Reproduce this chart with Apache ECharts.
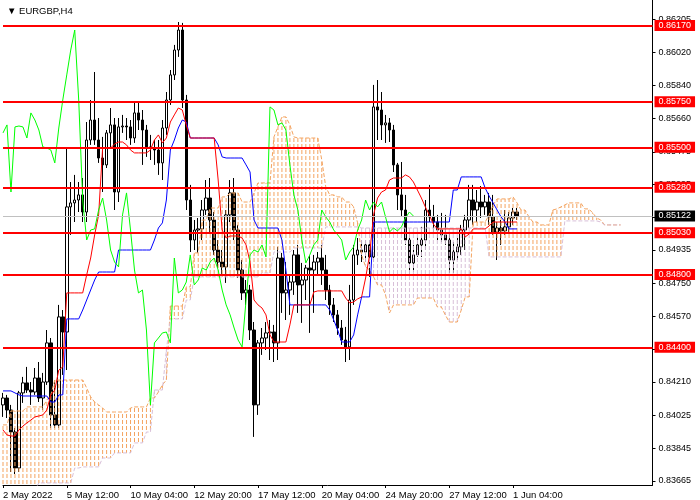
<!DOCTYPE html>
<html><head><meta charset="utf-8">
<script src="https://cdn.jsdelivr.net/npm/echarts@6/dist/echarts.min.js"></script>
<style>html,body{margin:0;padding:0;background:#fff}#c{width:700px;height:500px}</style>
</head><body><div id="c"></div>
<script>
const chartTitle = '\u25BC EURGBP,H4';
const xTickLabels = ['2 May 2022','5 May 12:00','10 May 04:00','12 May 20:00','17 May 12:00','20 May 04:00','24 May 20:00','27 May 12:00','1 Jun 04:00'];
const xTickStep = 16;
const barSlots = 164;
const yTickValues = [0.83665,0.83845,0.84025,0.84210,0.84390,0.84570,0.84750,0.84935,0.85115,0.85295,0.85475,0.85660,0.85840,0.86020,0.86205];
const yMin = 0.836425, yMax = 0.8631;
const levels = [0.86170,0.85750,0.85500,0.85280,0.85030,0.84800,0.84400];
const currentPrice = 0.85122;
const chikouShift = 26;

const opens = [0.84083,0.84121,0.84055,0.83934,0.83736,0.84149,0.84204,0.84165,0.84154,0.84231,
0.84121,0.84209,0.84424,0.84028,0.83973,0.84567,0.84484,0.85172,0.85194,0.85210,
0.85238,0.85144,0.85540,0.85650,0.85540,0.85441,0.85403,0.85579,0.85623,0.85254,
0.85612,0.85617,0.85612,0.85551,0.85689,0.85650,0.85595,0.85502,0.85496,0.85485,
0.85414,0.85606,0.85760,0.85898,0.86035,0.86145,0.85760,0.85210,0.84990,0.85045,
0.85051,0.85155,0.85221,0.85100,0.84935,0.84869,0.84842,0.85128,0.85249,0.85045,
0.84825,0.84699,0.84715,0.84495,0.84083,0.84424,0.84451,0.84479,0.84484,0.84424,
0.84891,0.84699,0.84715,0.84759,0.84908,0.84743,0.84770,0.84836,0.84825,0.84869,
0.84891,0.84825,0.84715,0.84633,0.84578,0.84506,0.84440,0.84402,0.84660,0.84908,
0.84935,0.84924,0.84963,0.84897,0.85722,0.85705,0.85623,0.85634,0.85595,0.85403,
0.85238,0.85155,0.84990,0.84864,0.84908,0.84963,0.84990,0.85155,0.85117,0.85089,
0.85045,0.85018,0.84990,0.84880,0.84924,0.84952,0.85045,0.85100,0.85210,0.85155,
0.85199,0.85172,0.85199,0.85117,0.85034,0.85056,0.85040,0.85062,0.85111,0.85144];

const highs = [0.84149,0.84138,0.84083,0.83956,0.84160,0.84237,0.84292,0.84209,0.84286,0.84319,
0.84259,0.84495,0.84451,0.84220,0.84633,0.84605,0.85496,0.85309,0.85348,0.85309,
0.85331,0.85639,0.85760,0.85914,0.85661,0.85557,0.85595,0.85716,0.85661,0.85661,
0.85678,0.85661,0.85650,0.85749,0.85744,0.85705,0.85623,0.85568,0.85540,0.85540,
0.85650,0.85804,0.85925,0.86063,0.86189,0.86184,0.85788,0.85293,0.85100,0.85111,
0.85210,0.85320,0.85331,0.85144,0.84990,0.84935,0.85155,0.85320,0.85331,0.85073,
0.84880,0.84770,0.84743,0.84539,0.84440,0.84506,0.84539,0.84550,0.84523,0.84952,
0.84919,0.84869,0.84798,0.84935,0.84963,0.84864,0.84853,0.84908,0.84908,0.84924,
0.84963,0.84908,0.84743,0.84671,0.84605,0.84550,0.84512,0.84743,0.84963,0.85001,
0.84990,0.84990,0.84990,0.85843,0.85870,0.85804,0.85678,0.85661,0.85623,0.85414,
0.85419,0.85238,0.85034,0.84963,0.85007,0.85062,0.85210,0.85293,0.85183,0.85128,
0.85139,0.85128,0.85034,0.84979,0.85001,0.85073,0.85128,0.85293,0.85293,0.85265,
0.85287,0.85238,0.85249,0.85238,0.85089,0.85100,0.85155,0.85144,0.85166,0.85166];

const lows = [0.84017,0.84011,0.83714,0.83703,0.83714,0.84094,0.84149,0.84083,0.84138,0.84099,
0.84055,0.84193,0.83956,0.83956,0.83956,0.84248,0.84275,0.85018,0.85089,0.85144,
0.85089,0.85089,0.85513,0.85513,0.85414,0.85254,0.85386,0.85496,0.85155,0.85199,
0.85579,0.85540,0.85513,0.85524,0.85595,0.85403,0.85447,0.85430,0.85403,0.85348,
0.85320,0.85568,0.85733,0.85870,0.85997,0.85716,0.85155,0.84924,0.84935,0.84919,
0.84990,0.85128,0.85034,0.84908,0.84836,0.84798,0.84754,0.85089,0.84990,0.84781,
0.84660,0.84633,0.84440,0.83907,0.84028,0.84358,0.84385,0.84330,0.84319,0.84330,
0.84589,0.84550,0.84578,0.84688,0.84589,0.84534,0.84660,0.84479,0.84589,0.84798,
0.84743,0.84660,0.84578,0.84539,0.84468,0.84413,0.84319,0.84330,0.84633,0.84853,
0.84869,0.84869,0.84787,0.84869,0.85540,0.85540,0.85524,0.85529,0.85364,0.85155,
0.85117,0.84963,0.84798,0.84814,0.84897,0.84897,0.84935,0.85089,0.85029,0.84990,
0.84979,0.84963,0.84809,0.84809,0.84880,0.84908,0.84935,0.85056,0.85073,0.85089,
0.85111,0.85128,0.85073,0.85018,0.84880,0.84963,0.85018,0.85029,0.85073,0.85100];

const closes = [0.84121,0.84055,0.83934,0.83736,0.84149,0.84204,0.84165,0.84154,0.84231,0.84121,
0.84209,0.84424,0.84028,0.83973,0.84567,0.84484,0.85172,0.85194,0.85210,0.85238,
0.85144,0.85540,0.85650,0.85540,0.85441,0.85403,0.85579,0.85623,0.85254,0.85612,
0.85617,0.85612,0.85551,0.85689,0.85650,0.85595,0.85502,0.85496,0.85485,0.85414,
0.85606,0.85760,0.85898,0.86035,0.86145,0.85760,0.85210,0.84990,0.85045,0.85051,
0.85155,0.85221,0.85100,0.84935,0.84869,0.84842,0.85128,0.85249,0.85045,0.84825,
0.84699,0.84715,0.84495,0.84083,0.84424,0.84451,0.84479,0.84484,0.84424,0.84891,
0.84699,0.84715,0.84759,0.84908,0.84743,0.84770,0.84836,0.84825,0.84869,0.84891,
0.84825,0.84715,0.84633,0.84578,0.84506,0.84440,0.84402,0.84660,0.84908,0.84935,
0.84924,0.84963,0.84897,0.85722,0.85705,0.85623,0.85634,0.85595,0.85403,0.85238,
0.85155,0.84990,0.84864,0.84908,0.84963,0.84990,0.85155,0.85117,0.85089,0.85045,
0.85018,0.84990,0.84880,0.84924,0.84952,0.85045,0.85100,0.85210,0.85155,0.85199,
0.85172,0.85199,0.85117,0.85034,0.85056,0.85040,0.85062,0.85111,0.85144,0.85122];

const tenkan = [0.83945,0.83918,0.83912,0.83912,0.83945,0.83967,0.83984,0.84000,0.84017,0.84022,
0.84028,0.84055,0.84138,0.84165,0.84275,0.84292,0.84699,0.84699,0.84699,0.84699,
0.84699,0.84798,0.84891,0.85018,0.85128,0.85496,0.85496,0.85496,0.85518,0.85529,
0.85529,0.85513,0.85485,0.85469,0.85469,0.85469,0.85469,0.85485,0.85540,0.85568,
0.85524,0.85551,0.85639,0.85678,0.85716,0.85705,0.85623,0.85551,0.85551,0.85551,
0.85551,0.85551,0.85551,0.85551,0.85320,0.85045,0.85001,0.85012,0.85012,0.85012,
0.85001,0.84963,0.84869,0.84660,0.84633,0.84616,0.84578,0.84468,0.84429,0.84429,
0.84429,0.84429,0.84523,0.84633,0.84633,0.84633,0.84633,0.84633,0.84704,0.84710,
0.84710,0.84710,0.84710,0.84710,0.84710,0.84710,0.84671,0.84644,0.84649,0.84666,
0.84677,0.84781,0.84908,0.85128,0.85221,0.85254,0.85265,0.85320,0.85331,0.85331,
0.85331,0.85348,0.85337,0.85309,0.85265,0.85221,0.85172,0.85128,0.85078,0.85051,
0.85051,0.85051,0.85051,0.85051,0.85051,0.85051,0.85007,0.85023,0.85051,0.85051,
0.85051,0.85051,0.85067,0.85089,0.85089,0.85089,0.85089,0.85089,0.85089,0.85089];

const kijun = [0.84160,0.84160,0.84160,0.84149,0.84138,0.84132,0.84132,0.84132,0.84132,0.84132,
0.84132,0.84132,0.84099,0.84099,0.84138,0.84138,0.84556,0.84556,0.84556,0.84556,
0.84605,0.84660,0.84715,0.84770,0.84814,0.84814,0.84814,0.84814,0.84814,0.84935,
0.84935,0.84935,0.84935,0.84935,0.84935,0.84935,0.84935,0.84935,0.84990,0.85056,
0.85084,0.85210,0.85485,0.85540,0.85606,0.85650,0.85639,0.85551,0.85551,0.85551,
0.85551,0.85551,0.85551,0.85551,0.85513,0.85447,0.85441,0.85441,0.85441,0.85441,
0.85441,0.85403,0.85364,0.85100,0.85056,0.85056,0.85056,0.85056,0.85056,0.85056,
0.84990,0.84825,0.84633,0.84633,0.84633,0.84633,0.84633,0.84633,0.84633,0.84633,
0.84633,0.84633,0.84605,0.84550,0.84495,0.84429,0.84429,0.84429,0.84468,0.84578,
0.84677,0.84677,0.84677,0.85089,0.85089,0.85089,0.85089,0.85089,0.85089,0.85089,
0.85089,0.85089,0.85089,0.85089,0.85089,0.85089,0.85089,0.85089,0.85089,0.85089,
0.85089,0.85089,0.85089,0.85265,0.85265,0.85337,0.85337,0.85337,0.85337,0.85337,
0.85337,0.85276,0.85232,0.85194,0.85155,0.85117,0.85089,0.85051,0.85051,0.85051];

const spanA = [0.83973,0.83973,0.84050,0.84050,0.84050,0.84050,0.84072,0.84072,0.84072,0.84072,
0.84072,0.84110,0.84138,0.84220,0.84220,0.84220,0.84220,0.84220,0.84220,0.84220,
0.84220,0.84176,0.84127,0.84099,0.84083,0.84066,0.84044,0.84044,0.84044,0.84044,
0.84044,0.84044,0.84066,0.84072,0.84072,0.84072,0.84072,0.84121,0.84121,0.84154,
0.84193,0.84220,0.84627,0.84627,0.84627,0.84627,0.84732,0.84732,0.84919,0.84919,
0.85100,0.85100,0.85166,0.85166,0.85166,0.85227,0.85227,0.85249,0.85249,0.85249,
0.85199,0.85199,0.85199,0.85249,0.85304,0.85304,0.85304,0.85304,0.85557,0.85612,
0.85667,0.85667,0.85623,0.85557,0.85551,0.85551,0.85551,0.85551,0.85551,0.85551,
0.85430,0.85282,0.85238,0.85238,0.85227,0.85227,0.85199,0.85199,0.85172,0.85084,
0.84908,0.84842,0.84825,0.84787,0.84743,0.84743,0.84688,0.84589,0.84633,0.84633,
0.84633,0.84633,0.84633,0.84633,0.84671,0.84671,0.84671,0.84671,0.84671,0.84622,
0.84622,0.84578,0.84539,0.84539,0.84539,0.84605,0.84677,0.84677,0.85089,0.85089,
0.85089,0.85089,0.85128,0.85183,0.85216,0.85216,0.85216,0.85216,0.85227,0.85194,
0.85155,0.85155,0.85117,0.85089,0.85089,0.85073,0.85073,0.85073,0.85155,0.85161,
0.85172,0.85183,0.85194,0.85194,0.85194,0.85194,0.85161,0.85161,0.85139,0.85111,
0.85100,0.85073,0.85073,0.85073,0.85073,0.85073];

const spanB = [0.83615,0.83615,0.83615,0.83615,0.83615,0.83615,0.83615,0.83615,0.83615,0.83654,
0.83654,0.83654,0.83654,0.83654,0.83654,0.83654,0.83654,0.83654,0.83736,0.83736,
0.83742,0.83742,0.83742,0.83742,0.83742,0.83791,0.83791,0.83791,0.83819,0.83819,
0.83819,0.83819,0.83819,0.83874,0.83874,0.83874,0.83934,0.83934,0.84165,0.84165,
0.84165,0.84385,0.84556,0.84556,0.84556,0.84556,0.84660,0.84660,0.84787,0.84787,
0.84787,0.84787,0.84787,0.84787,0.84787,0.84787,0.84787,0.84787,0.84787,0.84787,
0.84787,0.84787,0.84787,0.84787,0.84787,0.84809,0.84809,0.84809,0.84924,0.84924,
0.84924,0.84924,0.84924,0.84946,0.84946,0.84946,0.84946,0.84946,0.84946,0.84946,
0.84946,0.85062,0.85062,0.85062,0.85062,0.85062,0.85062,0.85062,0.85062,0.85062,
0.85056,0.85056,0.85056,0.85056,0.85056,0.85056,0.85056,0.85056,0.85056,0.85056,
0.85056,0.85056,0.85056,0.85056,0.85056,0.85056,0.85056,0.85056,0.85056,0.85056,
0.85056,0.85056,0.85056,0.85056,0.85056,0.85056,0.85056,0.85056,0.85056,0.85056,
0.85056,0.85056,0.84897,0.84897,0.84897,0.84897,0.84897,0.84897,0.84897,0.84897,
0.84897,0.84897,0.84897,0.84897,0.84897,0.84897,0.84897,0.84897,0.84897,0.84897,
0.84897,0.85095,0.85095,0.85095,0.85095,0.85095,0.85095,0.85095,0.85095,0.85095,
0.85089,0.85073,0.85073,0.85073,0.85073,0.85073];

const FONT = 'Liberation Sans, DejaVu Sans, sans-serif';
const KUMO_UP = '#F4A460', KUMO_DOWN = '#D8BFD8';
const categories = Array.from({length: barSlots}, (_, i) => String(i));
const candleData = opens.map((o, i) => [o, closes[i], lows[i], highs[i]]);
const chikou = closes.slice(chikouShift);
const kumoBase = spanA.map((a, i) => Math.min(a, spanB[i]));
const kumoUp = spanA.map((a, i) => a >= spanB[i] ? a - spanB[i] : '-');
const kumoDown = spanA.map((a, i) => a < spanB[i] ? spanB[i] - a : '-');
const showTick = (i) => i % xTickStep === 0 && i / xTickStep < xTickLabels.length;

function dashPattern(color) {
  const cv = document.createElement('canvas');
  cv.width = 4; cv.height = 6;
  const g = cv.getContext('2d');
  g.fillStyle = color;
  g.fillRect(0, 0, 4, 4);
  return {image: cv, repeat: 'repeat'};
}

const chart = echarts.init(document.getElementById('c'), null, {renderer: 'canvas'});
chart.setOption({
  animation: false,
  backgroundColor: '#ffffff',
  title: {
    text: chartTitle, left: 2, top: 1,
    textStyle: {fontSize: 9.5, fontWeight: 'normal', color: '#000', fontFamily: FONT}
  },
  grid: {left: 0.5, top: 0, right: 47.5, bottom: 15, containLabel: false},
  xAxis: {
    type: 'category', data: categories, boundaryGap: false,
    axisLine: {show: true, lineStyle: {color: '#000', width: 1}},
    axisTick: {show: true, interval: showTick, length: 3, lineStyle: {color: '#000'}},
    axisLabel: {
      interval: showTick, align: 'left', margin: 5,
      fontSize: 9.5, color: '#000', fontFamily: FONT,
      formatter: (v, i) => xTickLabels[i / xTickStep] || ''
    },
    splitLine: {show: false}
  },
  yAxis: {
    type: 'value', position: 'right', min: yMin, max: yMax, scale: true,
    axisLine: {show: true, lineStyle: {color: '#000', width: 1}},
    axisTick: {show: true, customValues: yTickValues, length: 3, lineStyle: {color: '#000'}},
    axisLabel: {
      customValues: yTickValues, margin: 6, fontSize: 9, color: '#000', fontFamily: FONT,
      formatter: v => v.toFixed(5)
    },
    splitLine: {show: false}
  },
  series: [
    {
      type: 'candlestick', name: 'EURGBP', data: candleData, barWidth: 3, z: 2,
      itemStyle: {color: '#ffffff', color0: '#000000', borderColor: '#000000', borderColor0: '#000000', borderWidth: 1}
    },
    {type: 'bar', name: 'KumoBase', data: kumoBase, stack: 'kumo', barWidth: 1, z: 3, silent: true,
      itemStyle: {color: 'rgba(0,0,0,0)'}},
    {type: 'bar', name: 'KumoUp', data: kumoUp, stack: 'kumo', barWidth: 1, z: 3, silent: true,
      itemStyle: {color: dashPattern(KUMO_UP)}},
    {type: 'bar', name: 'KumoDown', data: kumoDown, stack: 'kumo', barWidth: 1, z: 3, silent: true,
      itemStyle: {color: dashPattern(KUMO_DOWN)}},
    {type: 'line', name: 'Senkou A', data: spanA, symbol: 'none', z: 3,
      lineStyle: {color: KUMO_UP, width: 1, type: [4, 2]}},
    {type: 'line', name: 'Senkou B', data: spanB, symbol: 'none', z: 3,
      lineStyle: {color: KUMO_DOWN, width: 1, type: [4, 2]}},
    {type: 'line', name: 'Kijun', data: kijun, symbol: 'none', z: 4,
      lineStyle: {color: '#0000FF', width: 1}},
    {type: 'line', name: 'Tenkan', data: tenkan, symbol: 'none', z: 4,
      lineStyle: {color: '#FF0000', width: 1}},
    {type: 'line', name: 'Chikou', data: chikou, symbol: 'none', z: 4,
      lineStyle: {color: '#00FF00', width: 1}},
    {
      type: 'line', name: 'Bid', data: [], z: 6, silent: true,
      markLine: {
        silent: true, symbol: ['none', 'none'], animation: false, precision: 5,
        data: [{
          yAxis: currentPrice,
          lineStyle: {color: '#C0C0C0', width: 1, type: 'solid'},
          label: {show: true, position: 'end', distance: 2, formatter: p => Number(p.value).toFixed(5),
            backgroundColor: '#000', color: '#fff', fontSize: 9, fontFamily: FONT, padding: [1, 4, 1, 4]}
        }]
      }
    },
    {
      type: 'line', name: 'Levels', data: [], z: 10, silent: true,
      markLine: {
        silent: true, symbol: ['none', 'none'], animation: false, precision: 5,
        data: levels.map(v => ({
          yAxis: v,
          lineStyle: {color: '#FF0000', width: 2, type: 'solid'},
          label: {show: true, position: 'end', distance: 2, formatter: p => Number(p.value).toFixed(5),
            backgroundColor: '#FF0000', color: '#fff', fontSize: 9, fontFamily: FONT, padding: [1, 4, 1, 4]}
        }))
      }
    }
  ]
});
</script>
</body></html>
